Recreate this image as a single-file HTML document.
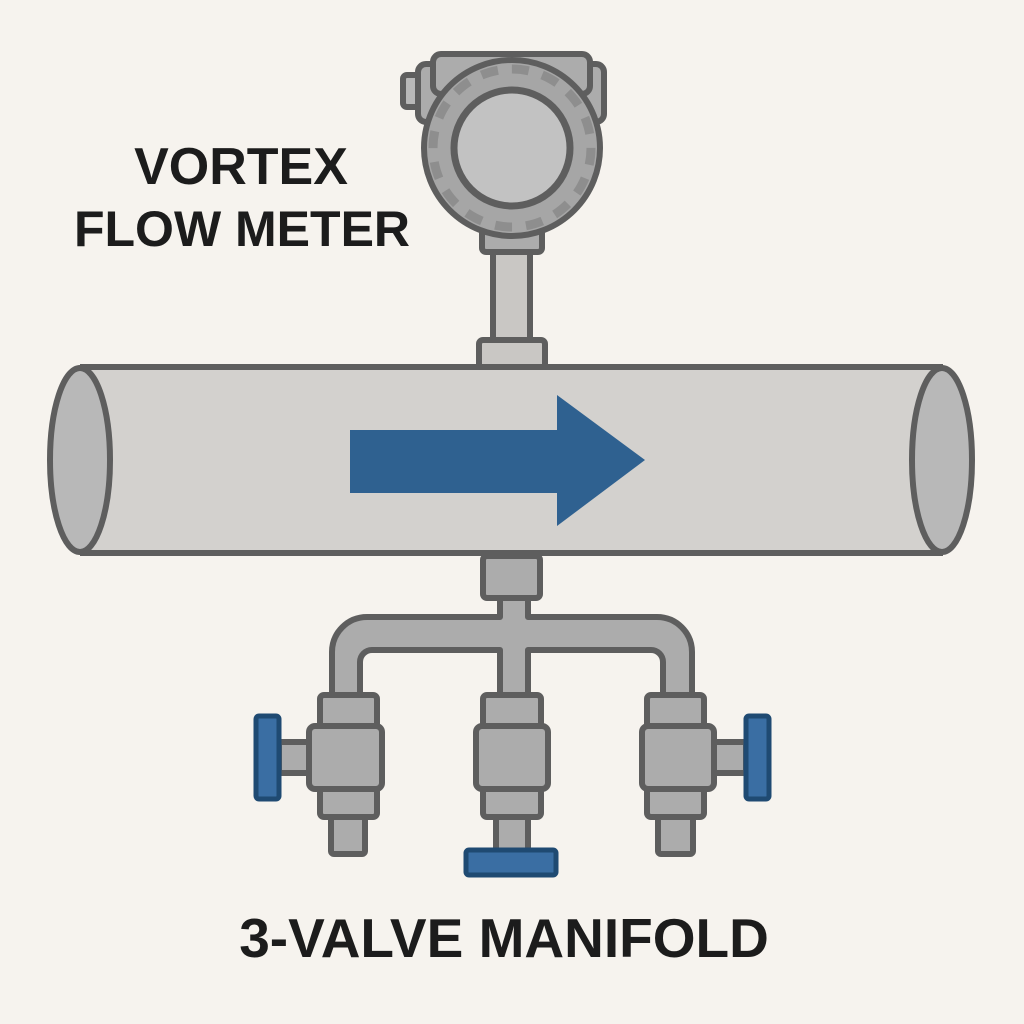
<!DOCTYPE html>
<html><head><style>html,body{margin:0;padding:0;background:#f6f3ee}svg{display:block}</style></head>
<body>
<svg width="1024" height="1024" viewBox="0 0 1024 1024" xmlns="http://www.w3.org/2000/svg">
<rect width="1024" height="1024" fill="#f6f3ee"/>
<g stroke="#5e5e5e" stroke-width="6" stroke-linejoin="round" fill="#acacac">
  <rect x="403" y="75" width="22" height="32" rx="4" fill="#b8b8b8"/>
  <rect x="418" y="64" width="186" height="58" rx="8"/>
  <rect x="433" y="54" width="157" height="40" rx="8"/>
  <rect x="493" y="250" width="37" height="92" fill="#c9c7c4"/>
  <rect x="482" y="226" width="60" height="26" rx="4"/>
  <rect x="479" y="340" width="66" height="30" rx="4" fill="#c9c7c4"/>
  <circle cx="512" cy="148" r="88" fill="#a6a6a6"/>
  <circle cx="512" cy="148" r="79" fill="none" stroke="#8e8e8e" stroke-width="9" stroke-dasharray="17 14"/>
  <circle cx="512" cy="148" r="58" fill="#c2c2c2" stroke-width="7"/>
  <rect x="80" y="367" width="863" height="186" fill="#d3d1ce" stroke="none"/>
  <line x1="80" y1="367" x2="943" y2="367"/>
  <line x1="80" y1="553" x2="943" y2="553"/>
  <ellipse cx="80" cy="460" rx="30" ry="92" fill="#b8b8b8"/>
  <ellipse cx="942" cy="460" rx="30" ry="92" fill="#b8b8b8"/>
  <rect x="483" y="556" width="57" height="42" rx="4"/>
  <path d="M332 697 V652 A35 35 0 0 1 367 617 H500 V598 H528 V617 H657 A35 35 0 0 1 692 652 V697 H663 V662 A12 12 0 0 0 651 650 H528 V697 H500 V650 H372 A12 12 0 0 0 360 662 V697 Z"/>
  <rect x="279" y="742" width="32" height="31"/>
  <rect x="331" y="815" width="34" height="39" rx="3"/>
  <rect x="320" y="695" width="57" height="33" rx="4"/>
  <rect x="320" y="787" width="57" height="30" rx="4"/>
  <rect x="309" y="726" width="73" height="63" rx="6"/>
  <rect x="496" y="815" width="32" height="36"/>
  <rect x="483" y="695" width="58" height="33" rx="4"/>
  <rect x="483" y="787" width="58" height="30" rx="4"/>
  <rect x="476" y="726" width="72" height="63" rx="6"/>
  <rect x="712" y="742" width="34" height="31"/>
  <rect x="658" y="815" width="35" height="39" rx="3"/>
  <rect x="647" y="695" width="57" height="33" rx="4"/>
  <rect x="647" y="787" width="57" height="30" rx="4"/>
  <rect x="642" y="726" width="72" height="63" rx="6"/>
</g>
<g stroke="#1f4a72" stroke-width="5" fill="#3a6ea3">
  <rect x="256" y="716" width="23" height="83" rx="3"/>
  <rect x="746" y="716" width="23" height="83" rx="3"/>
  <rect x="466" y="850" width="90" height="25" rx="3"/>
</g>
<path d="M350 430 H557 V395 L645 460 L557 526 V493 H350 Z" fill="#2f6190"/>
<g font-family="'Liberation Sans', sans-serif" font-weight="bold" fill="#1c1c1c" text-anchor="middle">
  <text x="241" y="184" font-size="52">VORTEX</text>
  <text x="242" y="246" font-size="50">FLOW METER</text>
  <text x="504" y="957" font-size="55">3-VALVE MANIFOLD</text>
</g>
</svg>
</body></html>
